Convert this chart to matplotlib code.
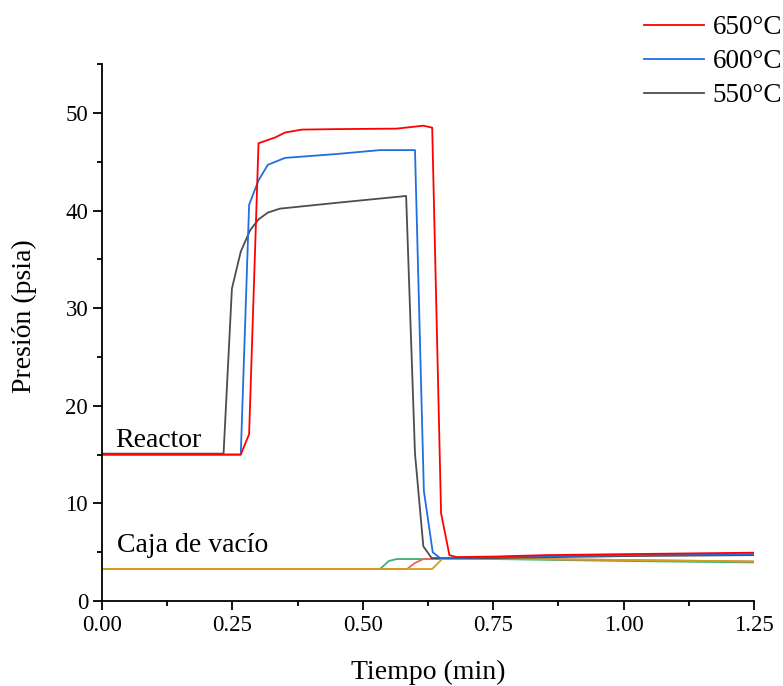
import matplotlib
matplotlib.use('Agg')
import matplotlib.pyplot as plt
from matplotlib.ticker import MultipleLocator, FormatStrFormatter

plt.rcParams['font.family'] = ['Liberation Serif', 'DejaVu Serif']

# Presión en el reactor
t_650 = [0, 0.266, 0.282, 0.300, 0.332, 0.351, 0.383, 0.45, 0.565, 0.616, 0.633, 0.650, 0.666, 0.680, 0.75, 0.85, 1.0, 1.25]
p_650 = [15.0, 15.0, 17.1, 46.9, 47.5, 48.0, 48.3, 48.35, 48.4, 48.7, 48.5, 9.0, 4.7, 4.5, 4.55, 4.7, 4.8, 4.95]

t_600 = [0, 0.266, 0.282, 0.300, 0.318, 0.351, 0.45, 0.533, 0.600, 0.617, 0.634, 0.648, 0.75, 1.0, 1.25]
p_600 = [15.0, 15.0, 40.6, 43.1, 44.7, 45.4, 45.8, 46.2, 46.2, 11.3, 5.0, 4.4, 4.5, 4.7, 4.8]

t_550 = [0, 0.233, 0.249, 0.266, 0.284, 0.300, 0.318, 0.341, 0.45, 0.583, 0.600, 0.616, 0.632, 0.75, 1.0, 1.25]
p_550 = [15.1, 15.1, 32.0, 35.8, 38.0, 39.1, 39.8, 40.2, 40.8, 41.5, 15.1, 5.6, 4.4, 4.4, 4.6, 4.7]

# Presión en la caja de vacío
tv_550 = [0, 0.533, 0.55, 0.565, 0.75, 1.0, 1.25]
pv_550 = [3.28, 3.28, 4.1, 4.3, 4.3, 4.1, 3.95]

tv_600 = [0, 0.585, 0.60, 0.616, 0.75, 1.0, 1.25]
pv_600 = [3.28, 3.28, 3.9, 4.3, 4.35, 4.2, 4.05]

tv_650 = [0, 0.633, 0.652, 0.75, 1.0, 1.25]
pv_650 = [3.28, 3.28, 4.3, 4.35, 4.2, 4.05]

fig = plt.figure(figsize=(7.83, 6.86), dpi=100)
ax = fig.add_axes([0.1303, 0.1239, 0.8327, 0.7825])

lw = 1.3
ax.plot(tv_550, pv_550, color='#3cb371', lw=lw)
ax.plot(tv_600, pv_600, color='#f06262', lw=lw)
ax.plot(tv_650, pv_650, color='#d4a017', lw=lw)

l550, = ax.plot(t_550, p_550, color='#4d4d4d', lw=lw, label='550°C')
l600, = ax.plot(t_600, p_600, color='#1f6fe0', lw=lw, label='600°C')
l650, = ax.plot(t_650, p_650, color='#ff0000', lw=lw, label='650°C')

ax.text(0.025, 15.75, 'Reactor', fontsize=20, va='baseline')
ax.text(0.029, 5.0, 'Caja de vacío', fontsize=20, va='baseline')

ax.set_xlim(0, 1.25)
ax.set_ylim(0, 55)
ax.xaxis.set_major_locator(MultipleLocator(0.25))
ax.xaxis.set_minor_locator(MultipleLocator(0.125))
ax.xaxis.set_major_formatter(FormatStrFormatter('%.2f'))
ax.yaxis.set_major_locator(MultipleLocator(10))
ax.yaxis.set_minor_locator(MultipleLocator(5))

for side in ['top', 'right']:
    ax.spines[side].set_visible(False)
for side in ['left', 'bottom']:
    ax.spines[side].set_linewidth(1.3)

ax.tick_params(which='major', direction='out', length=6.5, width=1.3, labelsize=16.5)
ax.tick_params(which='minor', direction='out', length=3.5, width=1.3)

ax.set_xlabel('Tiempo (min)', fontsize=20, labelpad=17)
ax.set_ylabel('Presión (psia)', fontsize=20, labelpad=20.5, y=0.53)

fig.legend(handles=[l650, l600, l550], loc='upper right', bbox_to_anchor=(1.03, 1.013),
           frameon=False, fontsize=19.5, handlelength=2.25, handletextpad=0.3,
           labelspacing=0.33)

fig.savefig('out.png', dpi=100)
